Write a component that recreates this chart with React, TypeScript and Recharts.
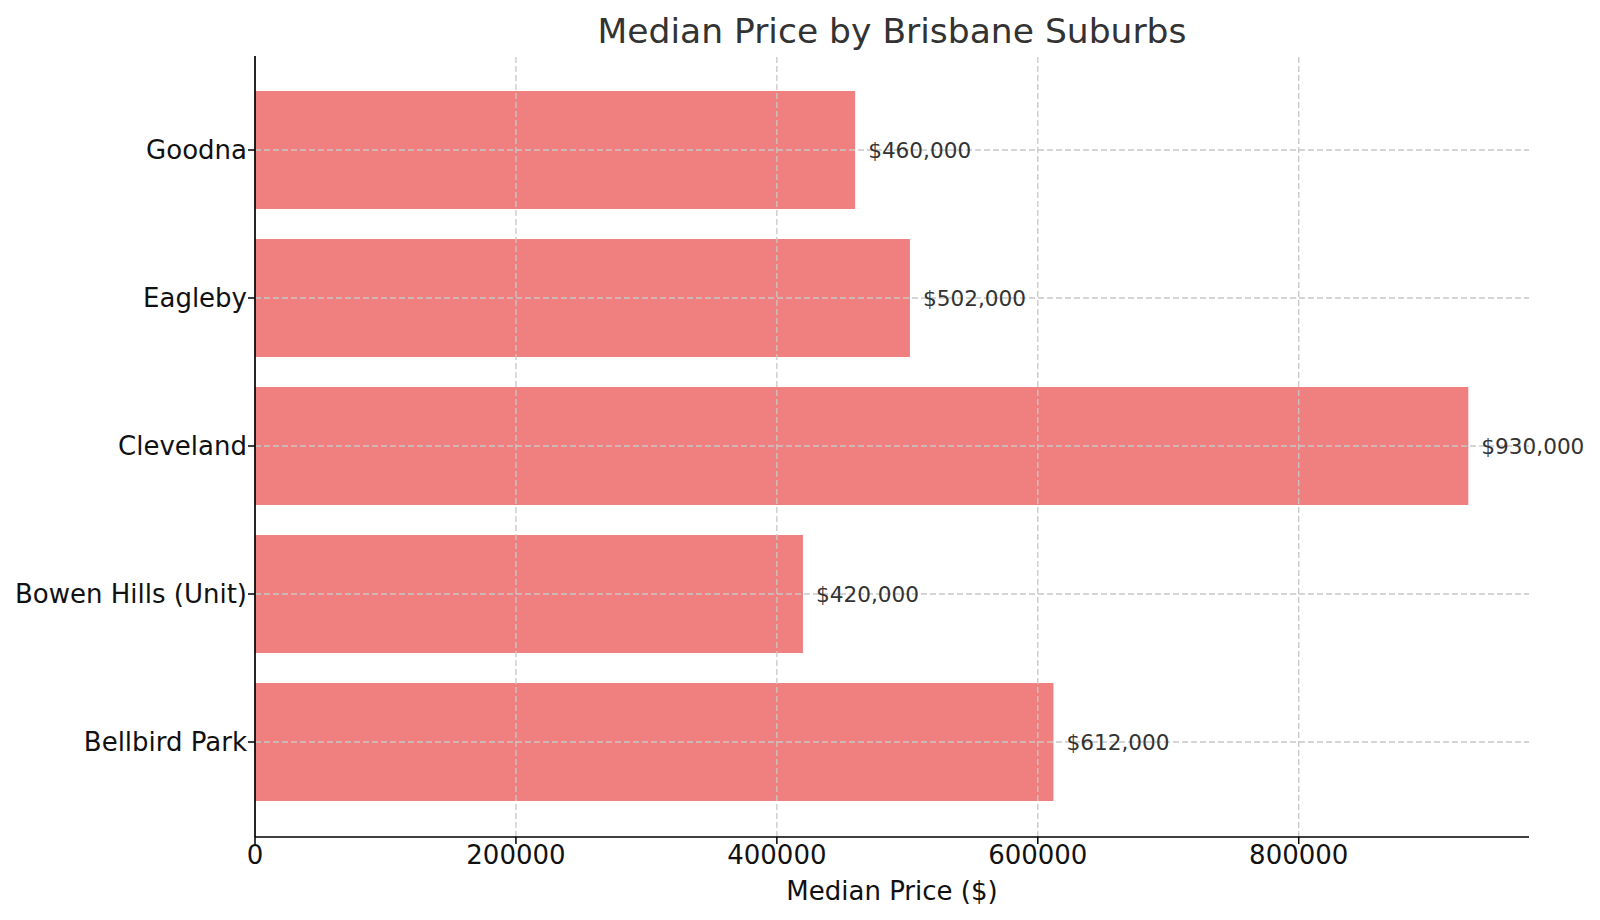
import { Bar, BarChart, LabelList, ReferenceLine, XAxis, YAxis } from "recharts";

const suburbs = ["Goodna", "Eagleby", "Cleveland", "Bowen Hills (Unit)", "Bellbird Park"];
const medianPrices = [460000, 502000, 930000, 420000, 612000];
const priceTicks = [0, 200000, 400000, 600000, 800000];

const data = suburbs.map((name, i) => ({ name, price: medianPrices[i] }));

const FONT = "'DejaVu Sans', sans-serif";
const gridStyle = { stroke: "#c8c8c8", strokeWidth: 1.3, strokeDasharray: "6 3" };

export default function App() {
  return (
    <div
      style={{
        position: "absolute",
        left: 0,
        top: 0,
        width: 1600,
        height: 920,
        background: "#fff",
        fontFamily: FONT,
      }}
    >
      {/* title */}
      <div
        style={{
          position: "absolute",
          left: 255,
          width: 1274,
          top: 11,
          textAlign: "center",
          fontSize: 34.5,
          lineHeight: "40px",
          color: "#333",
        }}
      >
        Median Price by Brisbane Suburbs
      </div>
      <BarChart
        width={1600}
        height={920}
        data={data}
        layout="vertical"
        margin={{ top: 56, right: 71, bottom: 0, left: 0 }}
      >
        <XAxis
          type="number"
          dataKey="price"
          domain={[0, 976500]}
          ticks={priceTicks}
          allowDataOverflow
          height={83}
          axisLine={{ stroke: "#000", strokeWidth: 1.7 }}
          tickLine={{ stroke: "#000", strokeWidth: 1.5 }}
          tickSize={7}
          tickMargin={2}
          tick={{ fill: "#111", fontSize: 26, fontFamily: FONT }}
        />
        <YAxis
          type="category"
          dataKey="name"
          width={255}
          padding={{ top: 20, bottom: 21 }}
          axisLine={{ stroke: "#000", strokeWidth: 1.7 }}
          tickLine={{ stroke: "#000", strokeWidth: 1.5 }}
          tickSize={7}
          tickMargin={1}
          tick={{ fill: "#111", fontSize: 26, fontFamily: FONT }}
        />
        <Bar dataKey="price" fill="#F08080" barSize={118} isAnimationActive={false}>
          <LabelList
            dataKey="price"
            position="right"
            offset={13}
            fill="#333"
            fontSize={21.6}
            fontFamily={FONT}
            formatter={(v: number) => "$" + Number(v).toLocaleString("en-US")}
          />
        </Bar>
        {/* grid at tick positions only, drawn over the bars */}
        {priceTicks.slice(1).map((t) => (
          <ReferenceLine key={"x" + t} x={t} {...gridStyle} />
        ))}
        {suburbs.map((s) => (
          <ReferenceLine key={"y" + s} y={s} {...gridStyle} />
        ))}
      </BarChart>
      {/* x-axis label */}
      <div
        style={{
          position: "absolute",
          left: 255,
          width: 1274,
          top: 876,
          textAlign: "center",
          fontSize: 26,
          lineHeight: "30px",
          color: "#111",
        }}
      >
        Median Price ($)
      </div>
    </div>
  );
}
